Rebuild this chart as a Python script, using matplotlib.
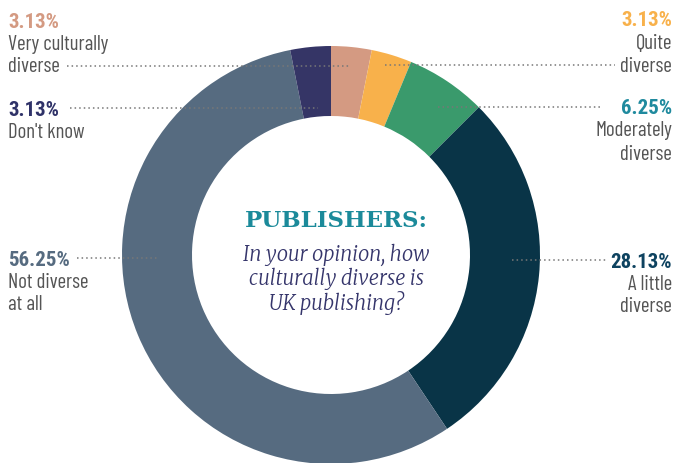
import matplotlib.pyplot as plt

# data
labels = [["Very culturally", "diverse"], ["Quite", "diverse"], ["Moderately", "diverse"],
          ["A little", "diverse"], ["Not diverse", "at all"], ["Don't know"]]
values = [3.13, 3.13, 6.25, 28.13, 56.25, 3.13]
pct_text = ["3.13%", "3.13%", "6.25%", "28.13%", "56.25%", "3.13%"]
slice_colors = ["#D49A82", "#F8B14B", "#3A9A6C", "#093447", "#566B80", "#353566"]
pct_colors = ["#D49A82", "#F8B14B", "#1F8A9E", "#0E4360", "#566B80", "#2F3268"]
question = ["In your opinion, how", "culturally diverse is", "UK publishing?"]

W, H = 675, 464
fig = plt.figure(figsize=(W / 100, H / 100), dpi=100)
ax = fig.add_axes([0, 0, 1, 1])

cx, cy, R = 331, H - 256, 209
ax.pie(values, colors=slice_colors, startangle=90, counterclock=False,
       center=(cx, cy), radius=R, wedgeprops=dict(width=70, linewidth=0))

ax.set_xlim(0, W)
ax.set_ylim(0, H)
ax.set_aspect("equal")
ax.axis("off")

cond_bold = ["Roboto Condensed", "Archivo Narrow", "DejaVu Sans"]
cond_light = ["Barlow Condensed", "Roboto Condensed", "DejaVu Sans"]
serif = ["Merriweather", "Noto Serif", "DejaVu Serif"]
gray = "#555555"

# label layout: (pct center y, side, text x, line y, line x0, line x1)
layout = [
    (20, "left", 8, 67, 67, 350),
    (19, "right", 672, 66, 385, 615),
    (107, "right", 672, 108, 438, 603),
    (260, "right", 672, 261, 512, 607),
    (258, "left", 8, 259, 77, 157),
    (109, "left", 8, 109, 70, 318),
]

for i, (py, side, tx, ly, x0, x1) in enumerate(layout):
    ax.text(tx, H - py - 7.5, pct_text[i], ha=side, va="baseline", fontsize=15,
            fontweight="bold", color=pct_colors[i], family=cond_bold)
    for j, line in enumerate(labels[i]):
        ax.text(tx, H - (py + 22.5 + 23 * j + 7), line, ha=side, va="baseline",
                fontsize=15, color=gray, family=cond_light, fontweight="normal")
    ax.plot([x0, x1], [H - ly, H - ly], color="#777777", lw=1.1,
            linestyle=(0, (1, 2)), zorder=5)

ax.text(cx + 5, H - 227, "PUBLISHERS:", ha="center", va="baseline", fontsize=16.5,
        fontweight="bold", color="#1B8A9A", family="DejaVu Serif")
for j, line in enumerate(question):
    ax.text(cx + 5, H - (261 + 24.5 * j), line, ha="center", va="baseline",
            fontsize=14.5, style="italic", color="#35356B", family=serif)

fig.savefig("out.png", dpi=100)
